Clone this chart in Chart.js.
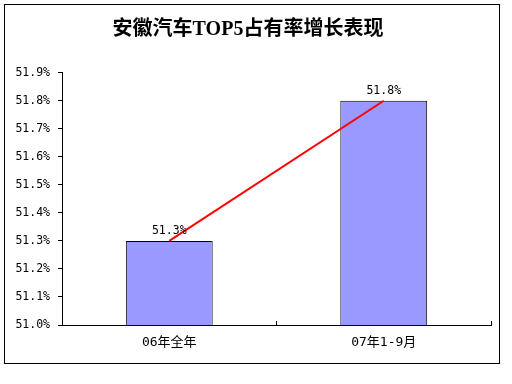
<!DOCTYPE html>
<html>
<head>
<meta charset="utf-8">
<script src="https://cdn.jsdelivr.net/npm/chart.js@4/dist/chart.umd.min.js"></script>
<style>
  body { margin: 0; background: #fff; }
  #box { position: absolute; left: 4px; top: 4px; width: 494px; height: 358px; border: 1px solid #000; }
  canvas { display: block; }
</style>
</head>
<body>
<div id="box"><canvas id="chart" width="494" height="358"></canvas></div>
<script>
// chart values
const titleText = "安徽汽车TOP5占有率增长表现"
const categories = ["06年全年", "07年1-9月"]
const shareValues = [51.3, 51.8]
const yMin = 51.0
const yMax = 51.9
const yStep = 0.1

// draws the value above each bar
const barLabels = {
  id: "barLabels",
  afterDatasetsDraw(chart) {
    const ctx = chart.ctx
    const meta = chart.getDatasetMeta(1)
    ctx.save()
    ctx.font = "11.5px 'DejaVu Sans Mono'"
    ctx.fillStyle = "#000"
    ctx.textAlign = "center"
    ctx.textBaseline = "middle"
    meta.data.forEach((bar, i) => {
      ctx.fillText(shareValues[i].toFixed(1) + "%", bar.x, bar.y - 10)
    })
    ctx.restore()
  }
}

new Chart("chart", {
  data: {
    labels: categories,
    datasets: [
      {type: "line", data: shareValues, borderColor: "#FF0000", borderWidth: 2, pointRadius: 0, order: 0},
      {type: "bar", data: shareValues, backgroundColor: "#9999FF", borderColor: "#000", borderWidth: 1,
       barPercentage: 0.405, categoryPercentage: 1, order: 1}
    ]
  },
  options: {
    responsive: false,
    devicePixelRatio: 1,
    animation: false,
    layout: {padding: {left: 0, right: 8, top: 0, bottom: 0}},
    plugins: {
      legend: {display: false},
      tooltip: {enabled: false},
      title: {display: true, text: titleText, color: "#000",
              font: {family: "'Liberation Serif', 'Noto Sans CJK SC'", size: 20, weight: "bold", lineHeight: 1.2},
              padding: {top: 12.5, bottom: 31.2}}
    },
    scales: {
      x: {
        afterFit: s => { s.height = 38 },
        grid: {display: true, offset: true, drawOnChartArea: false, drawTicks: true, tickLength: -4, color: "#000"},
        border: {display: true, color: "#000", width: 1},
        ticks: {color: "#000", padding: 14, font: {family: "'DejaVu Sans Mono', 'Noto Sans CJK SC'", size: 13}}
      },
      y: {
        min: yMin, max: yMax,
        afterFit: s => { s.width = 57 },
        grid: {display: true, drawOnChartArea: false, drawTicks: true, tickLength: 4, color: "#000"},
        border: {display: true, color: "#000", width: 1},
        ticks: {stepSize: yStep, color: "#000", padding: 8, font: {family: "'DejaVu Sans Mono'", size: 11.5},
                callback: v => Number(v).toFixed(1) + "%"}
      }
    }
  },
  plugins: [barLabels]
})
</script>
</body>
</html>
